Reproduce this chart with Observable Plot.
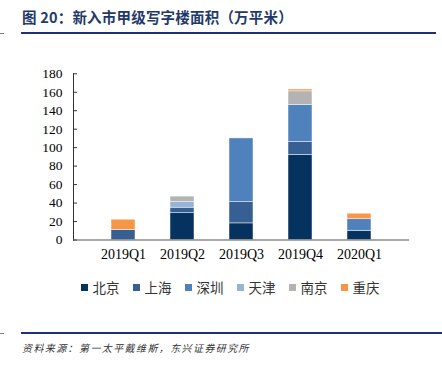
<!DOCTYPE html>
<html>
<head>
<meta charset="utf-8">
<script src="https://cdn.jsdelivr.net/npm/d3@7"></script>
<script src="https://cdn.jsdelivr.net/npm/@observablehq/plot@0.6"></script>
<style>
  html, body { margin: 0; padding: 0; background: #fff; }
  #page { position: relative; width: 442px; height: 365px; overflow: hidden; font-family: "Noto Sans CJK SC", sans-serif; }
  #title { position: absolute; left: 22px; top: 6px; font-size: 14.5px; font-weight: bold; color: #1f3a68; white-space: nowrap; letter-spacing: 0.2px; }
  .hline { position: absolute; height: 0; border-top: 2px solid #1f2f7a; }
  .stub { position: absolute; height: 0; border-top: 1px solid #7f7f7f; }
  #chart { position: absolute; left: 0; top: 60px; }
  #legend { position: absolute; left: 9px; width: 442px; top: 277px; display: flex; justify-content: center; font-size: 13.5px; color: #333; }
  .item { display: flex; align-items: center; margin: 0 6.5px; }
  .sw { width: 7px; height: 7px; margin-right: 5px; }
  #source { position: absolute; left: 22px; top: 340px; font-size: 10px; font-style: italic; color: #333; letter-spacing: 1.4px; white-space: nowrap; }
  #chart svg text { font-family: "Liberation Serif", serif; }
</style>
</head>
<body>
<div id="page">
  <div id="title">图 20：新入市甲级写字楼面积（万平米）</div>
  <div class="hline" style="left:21px; width:415px; top:32px;"></div>
  <div class="stub" style="left:0px; width:4px; top:33px;"></div>
  <div id="chart"></div>
  <div id="legend"></div>
  <div class="hline" style="left:21px; width:421px; top:332px;"></div>
  <div class="stub" style="left:0px; width:4px; top:333px;"></div>
  <div id="source">资料来源：第一太平戴维斯，东兴证券研究所</div>
</div>
<script>
const quarters = ["2019Q1", "2019Q2", "2019Q3", "2019Q4", "2020Q1"];
const cities = ["北京", "上海", "深圳", "天津", "南京", "重庆"];
const colors = ["#05325f", "#375f91", "#4f81bd", "#95b3d7", "#b3b3b3", "#f79646"];
const beijing  = [0, 29, 18, 92, 10];
const shanghai = [11, 6, 23, 14, 0];
const shenzhen = [0, 0, 69, 40, 12.5];
const tianjin  = [0, 6, 0, 0, 0];
const nanjing  = [0, 6, 0, 15, 0];
const chongqing = [11, 0, 0, 2, 6];
const yTicks = [0, 20, 40, 60, 80, 100, 120, 140, 160, 180];

const series = [beijing, shanghai, shenzhen, tianjin, nanjing, chongqing];
const rows = [];
cities.forEach((c, i) => quarters.forEach((q, j) => rows.push({city: c, quarter: q, value: series[i][j]})));

const W = 442, H = 215, ML = 73, MR = 33, MT = 13.3, MB = 35.5;

const chart = Plot.plot({
  width: W, height: H,
  marginLeft: ML, marginRight: MR, marginTop: MT, marginBottom: MB,
  style: {fontFamily: "'Liberation Serif', serif", fontSize: "14px", color: "#000", background: "transparent"},
  x: {domain: quarters, padding: 0.6, label: null},
  y: {domain: [0, 180], label: null},
  color: {domain: cities, range: colors},
  marks: [
    Plot.barY(rows, Plot.stackY({order: cities}, {x: "quarter", y: "value", fill: "city", stroke: "#fff", strokeWidth: 0.6, strokeOpacity: 0.8})),
    Plot.frame({anchor: "left", stroke: "#333", strokeWidth: 1}),
    Plot.ruleY(yTicks, {insetRight: W - ML - MR - 4, stroke: "#333", strokeWidth: 1}),
    Plot.ruleY([0], {stroke: "#555", strokeWidth: 1.2}),
    Plot.axisY({ticks: yTicks, tickSize: 0, tickPadding: 11, fontSize: 13.5, label: null}),
    Plot.axisX({tickSize: 0, tickPadding: 9, fontSize: 14, label: null})
  ]
});
document.getElementById("chart").appendChild(chart);

const legend = document.getElementById("legend");
cities.forEach((c, i) => {
  const item = document.createElement("div");
  item.className = "item";
  const sw = document.createElement("div");
  sw.className = "sw";
  sw.style.background = colors[i];
  const t = document.createElement("span");
  t.textContent = c;
  item.appendChild(sw);
  item.appendChild(t);
  legend.appendChild(item);
});
</script>
</body>
</html>
